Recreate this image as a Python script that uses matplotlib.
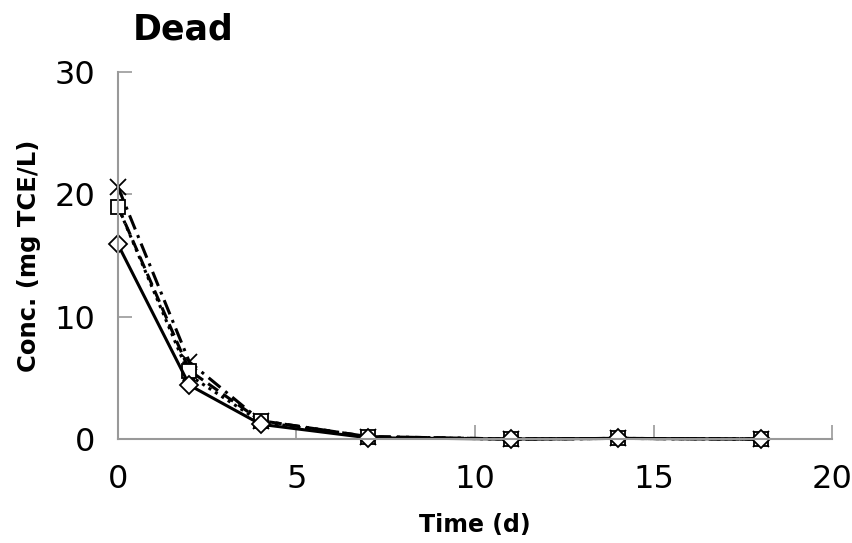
import matplotlib.pyplot as plt

time = [0, 2, 4, 7, 11, 14, 18]
diamond = [15.9, 4.4, 1.2, 0.1, 0.0, 0.05, 0.0]
square = [19.0, 5.6, 1.5, 0.2, 0.0, 0.05, 0.0]
triangle = [19.0, 5.2, 1.4, 0.15, 0.0, 0.05, 0.0]
cross = [20.6, 6.3, 1.5, 0.2, 0.0, 0.05, 0.0]

series = [
    (diamond, 'D', '-', 9),
    (square, 's', (0, (4, 2)), 10),
    (triangle, '^', (0, (1, 1.5)), 9),
    (cross, 'x', (0, (5, 2, 1, 2)), 12),
]

fig = plt.figure(figsize=(8.53, 5.43), dpi=100)
ax = fig.add_axes([0.1383, 0.1915, 0.8371, 0.6759])

for vals, mk, ls, ms in reversed(series):
    ax.plot(time, vals, color='black', linestyle=ls, linewidth=2.2,
            marker=mk, markersize=ms, markerfacecolor='white',
            markeredgecolor='black', markeredgewidth=1.3, clip_on=False)

ax.set_xlim(0, 20)
ax.set_ylim(0, 30)
ax.set_xticks([0, 5, 10, 15, 20])
ax.set_yticks([0, 10, 20, 30])
ax.tick_params(direction='in', length=10, width=1.2, color='#999999',
               labelsize=23, pad=16)
ax.tick_params(axis='x', pad=18)
for s in ['top', 'right']:
    ax.spines[s].set_visible(False)
for s in ['left', 'bottom']:
    ax.spines[s].set_color('#999999')
    ax.spines[s].set_linewidth(1.5)

ax.set_xlabel('Time (d)', fontsize=17, fontweight='bold', labelpad=13)
ax.set_ylabel('Conc. (mg TCE/L)', fontsize=17.5, fontweight='bold', labelpad=10)

fig.text(0.156, 0.914, 'Dead', fontsize=25, fontweight='bold',
         ha='left', va='bottom')

fig.savefig('out.png', dpi=100)
